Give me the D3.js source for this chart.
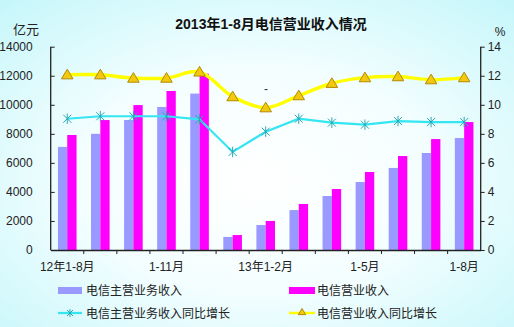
<!DOCTYPE html>
<html><head><meta charset="utf-8">
<script src="https://cdn.jsdelivr.net/npm/d3@7/dist/d3.min.js"></script>
<style>
html,body{margin:0;padding:0;}
svg{display:block;}
text{font-family:"Liberation Sans","Noto Sans CJK SC",sans-serif;}
</style></head>
<body>
<svg id="c" width="514" height="327"></svg>
<script>
const categories = ["12年1-8月","1-9月","1-10月","1-11月","1-12月","13年1月","13年1-2月","1-3月","1-4月","1-5月","1-6月","1-7月","1-8月"];
const xTickLabels = ["12年1-8月","1-11月","13年1-2月","1-5月","1-8月"];
const mainRevenue = [7100, 8000, 8950, 9850, 10770, 900, 1720, 2750, 3720, 4680, 5650, 6680, 7710];
const totalRevenue = [7920, 8950, 9980, 10950, 12140, 1030, 2000, 3170, 4200, 5370, 6470, 7640, 8810];
const mainGrowth = [9.04, 9.21, 9.21, 9.21, 9.0, 6.75, 8.15, 9.04, 8.77, 8.63, 8.88, 8.81, 8.81];
const totalGrowth = [12.07, 12.07, 11.84, 11.84, 12.26, 10.56, 9.80, 10.63, 11.48, 11.87, 11.94, 11.73, 11.87];
const leftTicks = [0,2000,4000,6000,8000,10000,12000,14000];
const rightTicks = [0,2,4,6,8,10,12,14];
const seriesNames = ["电信主营业务收入","电信营业收入","电信主营业务收入同比增长","电信营业收入同比增长"];
const title = "2013年1-8月电信营业收入情况";

const svg = d3.select("#c");
const defs = svg.append("defs");
const rg = defs.append("radialGradient").attr("id","bg").attr("cx","50%").attr("cy","55%").attr("r","75%");
rg.append("stop").attr("offset","0%").attr("stop-color","#ffffff");
rg.append("stop").attr("offset","45%").attr("stop-color","#f4feff");
rg.append("stop").attr("offset","100%").attr("stop-color","#c4f6fa");
svg.append("rect").attr("width",514).attr("height",327).attr("fill","url(#bg)");

const L = 50.7, R = 480.7, T = 46.7, B = 250;
const x = d3.scaleBand().domain(categories).range([L,R]).padding(0);
const xs = d3.scaleBand().domain(["a","b"]).range([-9.3,9.3]);
const yL = d3.scaleLinear().domain([0,14000]).range([B,T]);
const yR = d3.scaleLinear().domain([0,14]).range([B,T]);
const cx = c => x(c) + x.bandwidth()/2;

// bars
const g = svg.append("g");
categories.forEach((c,i)=>{
  g.append("rect").attr("x",cx(c)+xs("a")).attr("width",xs.bandwidth())
   .attr("y",yL(mainRevenue[i])).attr("height",B-yL(mainRevenue[i])).attr("fill","#9999ff");
  g.append("rect").attr("x",cx(c)+xs("b")).attr("width",xs.bandwidth())
   .attr("y",yL(totalRevenue[i])).attr("height",B-yL(totalRevenue[i])).attr("fill","#ff00ff");
});

// axes
const axisColor = "#222";
const lAxis = svg.append("g").attr("transform",`translate(${L},0)`)
  .call(d3.axisLeft(yL).tickValues(leftTicks).tickSize(-4).tickPadding(18).tickFormat(d3.format("d")));
const rAxis = svg.append("g").attr("transform",`translate(${R},0)`)
  .call(d3.axisRight(yR).tickValues(rightTicks).tickSize(4).tickPadding(3));
const bAxis = svg.append("g").attr("transform",`translate(0,${B})`)
  .call(d3.axisBottom(x).tickValues([]).tickSize(0));
[lAxis,rAxis,bAxis].forEach(a=>{
  a.select(".domain").attr("stroke",axisColor).attr("stroke-width",1.3);
  a.selectAll(".tick line").attr("stroke",axisColor);
  a.selectAll("text").attr("font-size",12).attr("fill","#222").attr("font-family",'"Liberation Sans","Noto Sans CJK SC",sans-serif');
});
lAxis.select(".domain").attr("d",`M0,${B}V${T}`);
rAxis.select(".domain").attr("d",`M0,${B}V${T}`);
// x boundary ticks
const bounds = categories.map(c=>x(c)).concat([R]).slice(1,-1);
svg.append("g").selectAll("line").data(bounds).join("line")
  .attr("x1",d=>d).attr("x2",d=>d).attr("y1",B).attr("y2",B+4).attr("stroke",axisColor);
// x labels
svg.append("g").selectAll("text").data(xTickLabels).join("text")
  .attr("x",(d,i)=>cx(categories[[0,3,6,9,12][i]])).attr("y",271)
  .attr("text-anchor","middle").attr("font-size",12).attr("fill","#222").text(d=>d);

// lines
const lineSmooth = d3.line().x((d,i)=>cx(categories[i])).y(d=>yR(d)).curve(d3.curveCatmullRom.alpha(0.5));
const lineStraight = d3.line().x((d,i)=>cx(categories[i])).y(d=>yR(d));
svg.append("path").attr("d",lineSmooth(totalGrowth)).attr("fill","none").attr("stroke","#ffff00").attr("stroke-width",3.5);
svg.append("path").attr("d",lineStraight(mainGrowth)).attr("fill","none").attr("stroke","#33e6f2").attr("stroke-width",2.2);

function tri(sel, px, py, s){
  sel.append("path").attr("d",`M${px},${py-s}L${px+s*1.05},${py+s*0.75}L${px-s*1.05},${py+s*0.75}Z`)
    .attr("fill","#f2c90f").attr("stroke","#b38a00").attr("stroke-width",1);
}
function star(sel, px, py, s){
  const p = `M${px-s},${py-s}L${px+s},${py+s}M${px-s},${py+s}L${px+s},${py-s}M${px},${py-s*1.3}L${px},${py+s*1.3}`;
  sel.append("path").attr("d",p).attr("stroke","#2aa7b0").attr("stroke-width",1).attr("fill","none");
}
const mk = svg.append("g");
totalGrowth.forEach((v,i)=>tri(mk,cx(categories[i]),yR(v),5.5));
mainGrowth.forEach((v,i)=>star(mk,cx(categories[i]),yR(v),4));

// stray dash label
svg.append("text").attr("x",266).attr("y",93).attr("text-anchor","middle").attr("font-size",12).attr("fill","#333").text("-");

// title & units
svg.append("text").attr("x",271).attr("y",29).attr("text-anchor","middle").attr("font-size",14).attr("font-weight","bold").attr("fill","#111").text(title);
svg.append("text").attr("x",26).attr("y",34).attr("text-anchor","middle").attr("font-size",13).attr("fill","#222").text("亿元");
svg.append("text").attr("x",500).attr("y",36).attr("text-anchor","middle").attr("font-size",12).attr("fill","#222").text("%");

// legend
const lg = svg.append("g");
lg.append("rect").attr("x",58).attr("y",287).attr("width",24).attr("height",7).attr("fill","#9999ff");
lg.append("text").attr("x",86).attr("y",295).attr("font-size",12).attr("fill","#222").text(seriesNames[0]);
lg.append("rect").attr("x",289).attr("y",287).attr("width",26).attr("height",7).attr("fill","#ff00ff");
lg.append("text").attr("x",317).attr("y",295).attr("font-size",12).attr("fill","#222").text(seriesNames[1]);
lg.append("line").attr("x1",58).attr("x2",82).attr("y1",313).attr("y2",313).attr("stroke","#33e6f2").attr("stroke-width",2.2);
star(lg,70,313,3);
lg.append("text").attr("x",86).attr("y",318).attr("font-size",12).attr("fill","#222").text(seriesNames[2]);
lg.append("line").attr("x1",289).attr("x2",315).attr("y1",313).attr("y2",313).attr("stroke","#ffff00").attr("stroke-width",2.5);
tri(lg,302,312,3.5);
lg.append("text").attr("x",317).attr("y",318).attr("font-size",12).attr("fill","#222").text(seriesNames[3]);
</script>
</body></html>
